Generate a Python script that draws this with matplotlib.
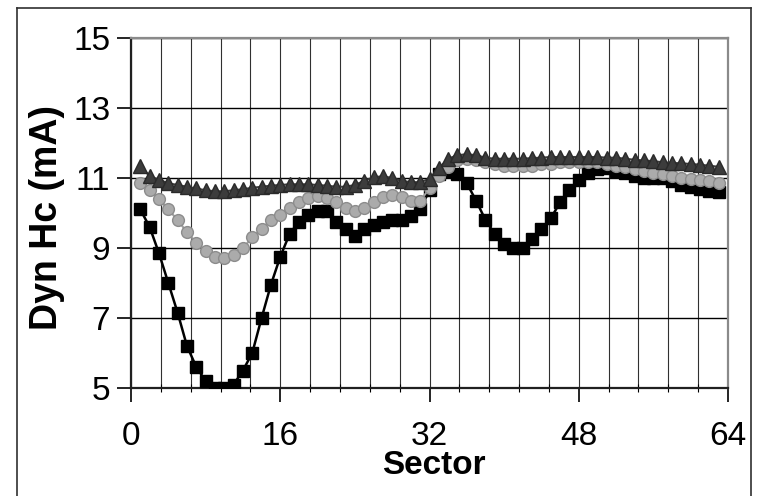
import numpy as np
import matplotlib
matplotlib.use("Agg")
import matplotlib.pyplot as plt
from matplotlib.ticker import MultipleLocator
from matplotlib.lines import Line2D

plt.rcParams["font.family"] = ["Liberation Sans", "DejaVu Sans"]

sectors = list(range(1, 64))
y_ticks = [5, 7, 9, 11, 13, 15]

# black squares (deepest dip)
hc_square = [10.1, 9.6, 8.85, 8.0, 7.15, 6.2, 5.6, 5.2, 5.0, 5.0,
             5.1, 5.5, 6.0, 7.0, 7.95, 8.75, 9.4, 9.75, 9.95, 10.05,
             10.05, 9.75, 9.55, 9.35, 9.55, 9.65, 9.75, 9.8, 9.8, 9.9,
             10.1, 10.65, 11.1, 11.2, 11.1, 10.85, 10.35, 9.8, 9.4, 9.1,
             9.0, 9.0, 9.25, 9.55, 9.85, 10.3, 10.65, 10.95, 11.15, 11.25,
             11.28, 11.2, 11.13, 11.05, 11.0, 11.0, 11.0, 10.9, 10.8, 10.75,
             10.68, 10.62, 10.6]

# grey circles
hc_circle = [10.85, 10.65, 10.4, 10.1, 9.8, 9.45, 9.15, 8.9, 8.75, 8.7,
             8.8, 9.0, 9.3, 9.55, 9.8, 9.95, 10.15, 10.3, 10.42, 10.48,
             10.42, 10.3, 10.15, 10.05, 10.15, 10.3, 10.45, 10.5, 10.45, 10.35,
             10.35, 10.7, 11.05, 11.3, 11.5, 11.55, 11.5, 11.45, 11.4, 11.35,
             11.35, 11.35, 11.35, 11.4, 11.4, 11.45, 11.45, 11.45, 11.45, 11.45,
             11.4, 11.35, 11.3, 11.25, 11.2, 11.15, 11.1, 11.05, 11.0, 10.98,
             10.95, 10.9, 10.87]

# dark triangles
hc_triangle = [11.35, 11.05, 10.95, 10.85, 10.8, 10.75, 10.7, 10.65, 10.62, 10.62,
               10.65, 10.68, 10.72, 10.75, 10.78, 10.8, 10.82, 10.82, 10.82, 10.8,
               10.78, 10.75, 10.75, 10.8, 10.92, 11.02, 11.05, 11.0, 10.92, 10.88,
               10.88, 10.98, 11.28, 11.55, 11.65, 11.68, 11.65, 11.58, 11.55, 11.55,
               11.55, 11.55, 11.57, 11.58, 11.6, 11.6, 11.6, 11.6, 11.6, 11.6,
               11.58, 11.58, 11.55, 11.52, 11.5, 11.48, 11.45, 11.43, 11.42, 11.4,
               11.38, 11.35, 11.32]

fig = plt.figure(figsize=(7.6, 4.96), dpi=100)
ax = fig.add_axes([131 / 760, 1 - 388 / 496, 597 / 760, 350 / 496])

ax.plot(sectors, hc_square, color="black", lw=1.8, marker="s", ms=8.5,
        mfc="black", mec="black", zorder=3)
ax.plot(sectors, hc_circle, color="#a0a0a0", lw=1.5, marker="o", ms=8.5,
        mfc="#ababab", mec="#8c8c8c", zorder=4)
ax.plot(sectors, hc_triangle, color="#3c3c3c", lw=1.5, marker="^", ms=10,
        mfc="#3c3c3c", mec="#2a2a2a", zorder=5)

ax.set_xlim(0, 64)
ax.set_ylim(5, 15)
ax.xaxis.set_major_locator(MultipleLocator(16))
ax.xaxis.set_minor_locator(MultipleLocator(3.2))
ax.set_yticks(y_ticks)

ax.grid(True, which="both", axis="x", color="#303030", lw=0.8)
ax.grid(True, which="major", axis="y", color="black", lw=1.0)
for tick_line in ax.xaxis.get_gridlines():
    if abs(tick_line.get_xdata()[0] - 32) < 0.01:
        tick_line.set_color("#b0b0b0")
        tick_line.set_linestyle((0, (2, 2)))

ax.tick_params(axis="both", which="major", labelsize=24, direction="out",
               length=10, width=1.2, color="black")
ax.tick_params(axis="x", which="major", pad=14)
ax.tick_params(axis="y", which="major", pad=5)
ax.tick_params(axis="x", which="minor", direction="inout", length=6, width=0.8)

for side in ("left", "bottom"):
    ax.spines[side].set_color("#202020")
    ax.spines[side].set_linewidth(1.6)
for side in ("top", "right"):
    ax.spines[side].set_color("#8a8a8a")
    ax.spines[side].set_linewidth(1.6)

fig.text(434 / 760, 1 - 466 / 496, "Sector", fontsize=24, fontweight="bold",
         ha="center", va="center")
fig.text(47 / 760, 1 - 218 / 496, "Dyn Hc (mA)", fontsize=27, fontweight="bold",
         ha="center", va="center", rotation=90)

# outer frame of the figure
frame_kw = dict(color="#303030", lw=1.2, transform=fig.transFigure)
fig.add_artist(Line2D([17 / 760, 751 / 760], [1 - 8 / 496, 1 - 8 / 496], **frame_kw))
fig.add_artist(Line2D([17 / 760, 17 / 760], [0, 1 - 8 / 496], **frame_kw))
fig.add_artist(Line2D([751 / 760, 751 / 760], [0, 1 - 8 / 496], **frame_kw))

fig.savefig("out.png", dpi=100)
